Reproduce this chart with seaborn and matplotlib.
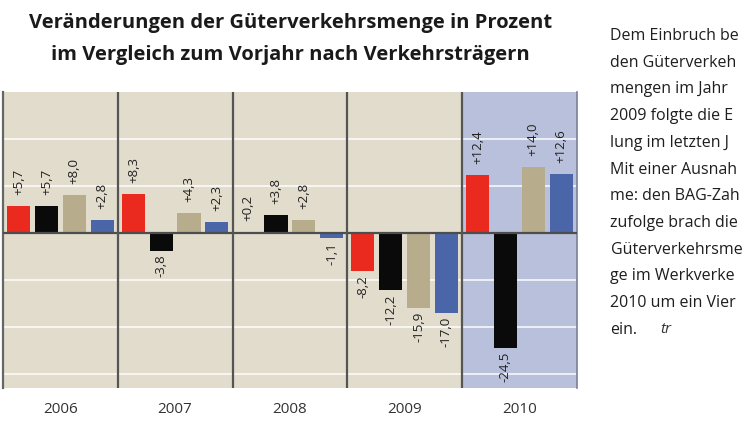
import pandas as pd
import matplotlib.pyplot as plt
import seaborn as sns

# Values (change vs. previous year, percent)
years = ['2006', '2007', '2008', '2009', '2010']
carriers = ['Gewerblich', 'Werkverkehr', 'Ausländisch', 'Gesamt']
gewerblich = [5.7, 8.3, 0.2, -8.2, 12.4]
werkverkehr = [5.7, -3.8, 3.8, -12.2, -24.5]
auslaendisch = [8.0, 4.3, 2.8, -15.9, 14.0]
gesamt = [2.8, 2.3, -1.1, -17.0, 12.6]

# side column as far as it is visible in the (cropped) reference
side_text = ['Dem Einbruch be', 'den Güterverkeh', 'mengen im Jahr',
             '2009 folgte die E', 'lung im letzten J', 'Mit einer Ausnah',
             'me: den BAG-Zah', 'zufolge brach die', 'Güterverkehrsme',
             'ge im Werkverke', '2010 um ein Vier', 'ein.']

colors = ['#ea2a1f', '#0a0a0a', '#b7ac8b', '#4a66a8']

df = pd.DataFrame({
    'Jahr': years * 4,
    'Träger': [c for c in carriers for _ in years],
    'Wert': gewerblich + werkverkehr + auslaendisch + gesamt,
})

sns.set_style('white')
plt.rcParams['font.family'] = ['Open Sans', 'DejaVu Sans']

fig = plt.figure(figsize=(7.5, 4.22), dpi=100)
ax = fig.add_axes([0.004, 0.081, 0.765, 0.701])
ax.set_facecolor('#e1dccc')
ax.axvspan(3.5, 4.6, color='#b9c0db', zorder=0)

for y in [20, 10, -10, -20, -30]:
    ax.axhline(y, color='white', lw=1.4, alpha=0.75, zorder=0.5)

sns.barplot(data=df, x='Jahr', y='Wert', hue='Träger', palette=colors,
            width=0.97, gap=0.17, saturation=1, linewidth=0, edgecolor='none',
            legend=False, ax=ax, zorder=2)

for cont, vals in zip(ax.containers, [gewerblich, werkverkehr, auslaendisch, gesamt]):
    pos = [('+' + f'{v:.1f}'.replace('.', ',')) if v > 0 else '' for v in vals]
    neg = [('-' + f'{-v:.1f}'.replace('.', ',')) if v < 0 else '' for v in vals]
    ax.bar_label(cont, labels=pos, rotation=90, padding=8, fontsize=9.5,
                 color='#222222')
    ax.bar_label(cont, labels=neg, rotation=90, padding=3, fontsize=9.5,
                 color='#222222')

ax.axhline(0, color='#4d4d4d', lw=1.6, zorder=3)
for xv in [0.5, 1.5, 2.5, 3.5]:
    ax.axvline(xv, color='#555555', lw=1.6, zorder=3)

ax.set_xlim(-0.5, 4.5)
ax.set_ylim(-33, 30)
for s in ['top', 'bottom']:
    ax.spines[s].set_visible(False)
ax.spines['left'].set_color('#666666')
ax.spines['left'].set_linewidth(1.6)
ax.spines['right'].set_color('#7a7f99')
ax.spines['right'].set_linewidth(1.2)
ax.set_yticks([])
ax.set_xlabel('')
ax.set_ylabel('')
ax.tick_params(axis='x', length=0, pad=10, labelsize=11, labelcolor='#333333')

fig.text(0.387, 0.946, 'Veränderungen der Güterverkehrsmenge in Prozent',
         ha='center', va='center', fontsize=14.5, fontweight='bold', color='#1a1a1a')
fig.text(0.387, 0.869, 'im Vergleich zum Vorjahr nach Verkehrsträgern',
         ha='center', va='center', fontsize=14.5, fontweight='bold', color='#1a1a1a')

for i, line in enumerate(side_text):
    fig.text(0.814, 1 - (36 + i * 26.7) / 422, line, ha='left', va='center',
             fontsize=11.5, color='#1e1e1e')
fig.text(0.880, 1 - (36 + 11 * 26.7) / 422, 'tr', ha='left', va='center',
         fontsize=11, style='italic', color='#333333')

fig.savefig('out.png', dpi=100)
